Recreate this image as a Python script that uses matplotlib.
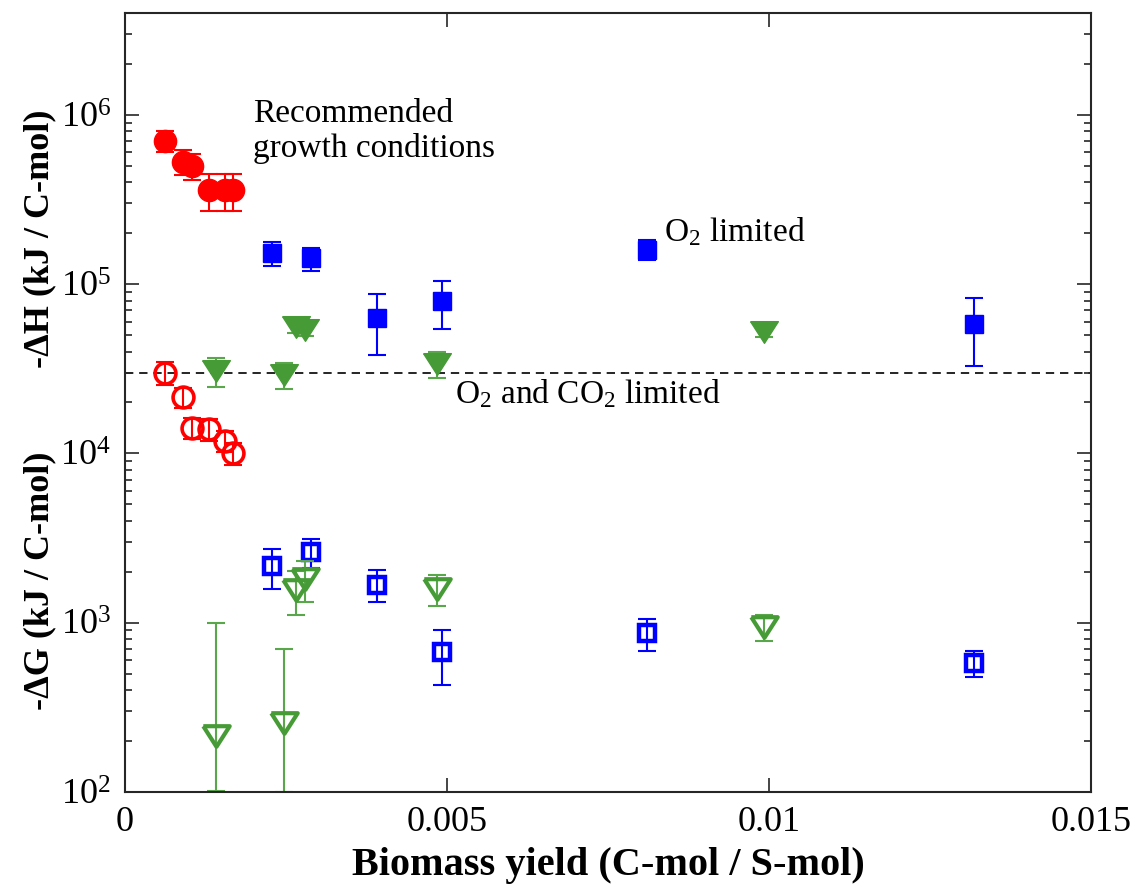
import numpy as np
import matplotlib
matplotlib.use("Agg")
import matplotlib.pyplot as plt
from matplotlib.ticker import LogLocator, NullFormatter, FixedLocator

plt.rcParams['font.family'] = ['Liberation Serif', 'DejaVu Serif']
plt.rcParams['mathtext.fontset'] = 'custom'
plt.rcParams['mathtext.rm'] = 'Liberation Serif'
plt.rcParams['mathtext.it'] = 'Liberation Serif:italic'
plt.rcParams['mathtext.bf'] = 'Liberation Serif:bold'

# Recommended growth conditions
x_rec = [0.00062, 0.00090, 0.00104, 0.00131, 0.00155, 0.00168]
dH_rec = [7.0e5, 5.3e5, 5.0e5, 3.6e5, 3.6e5, 3.6e5]
dH_rec_err = [1.0e5, 0.9e5, 0.9e5, 0.9e5, 0.9e5, 0.9e5]
dG_rec = [3.0e4, 2.15e4, 1.42e4, 1.39e4, 1.19e4, 1.0e4]
dG_rec_err = [4500, 3000, 2000, 2000, 1700, 1500]

# O2 limited
x_o2 = [0.00228, 0.00289, 0.00391, 0.00493, 0.00810, 0.01318]
dH_o2 = [1.53e5, 1.42e5, 6.3e4, 7.9e4, 1.6e5, 5.8e4]
dH_o2_err = [2.5e4, 2.2e4, 2.5e4, 2.5e4, 2.2e4, 2.5e4]
dG_o2 = [2150, 2620, 1680, 670, 865, 580]
dG_o2_err = [560, 520, 360, 240, 180, 105]

# O2 and CO2 limited
x_co2 = [0.00141, 0.00247, 0.00266, 0.00279, 0.00485, 0.00992]
dH_co2 = [3.07e4, 2.9e4, 5.56e4, 5.37e4, 3.38e4, 5.2e4]
dH_co2_err = [6000, 5000, 4000, 4000, 6000, 3000]
dG_co2 = [215, 255, 1560, 1820, 1590, 945]
dG_co2_lo = [113, 155, 450, 500, 330, 170]
dG_co2_hi = [785, 445, 450, 500, 330, 170]

threshold = 3e4
x_ticks = [0, 0.005, 0.01, 0.015]
x_ticklabels = ['0', '0.005', '0.01', '0.015']

RED = '#ff0000'
BLUE = '#0000ff'
GREEN = '#479b37'
GREEN_BAR = '#5aa64b'

tri = [(-1, 0.78), (1, 0.78), (0, -0.78), (-1, 0.78)]

fig = plt.figure(figsize=(11.37, 8.94), dpi=100)
ax = fig.add_axes([0.1099, 0.1141, 0.8496, 0.8714])

eb = dict(fmt='none', elinewidth=1.5, capsize=6.5, capthick=1.5)


def series(x, y, err, bar_color, marker, ms, mfc, mec, mew):
    ax.errorbar(x, y, yerr=err, ecolor=bar_color, **eb)
    ax.plot(x, y, linestyle='none', marker=marker, ms=ms, mfc=mfc, mec=mec,
            mew=mew)


series(x_rec, dH_rec, dH_rec_err, RED, 'o', 16, RED, RED, 1)
series(x_rec, dG_rec, dG_rec_err, RED, 'o', 15, 'none', RED, 2.6)
series(x_o2, dH_o2, dH_o2_err, BLUE, 's', 13, BLUE, BLUE, 1)
series(x_o2, dG_o2, dG_o2_err, BLUE, 's', 11, 'none', BLUE, 3.2)
series(x_co2, dH_co2, dH_co2_err, GREEN_BAR, tri, 20, GREEN, GREEN, 1)
series(x_co2, dG_co2, [dG_co2_lo, dG_co2_hi], GREEN_BAR, tri, 19, 'none',
       GREEN, 3)

ax.axhline(threshold, color='black', linestyle=(0, (5, 3.5)), linewidth=1.2,
           zorder=1)

ax.set_yscale('log')
ax.set_xlim(0, 0.015)
ax.set_ylim(1e2, 4e6)
ax.xaxis.set_major_locator(FixedLocator(x_ticks))
ax.set_xticklabels(x_ticklabels)
ax.yaxis.set_major_locator(LogLocator(base=10, numticks=10))
ax.yaxis.set_minor_locator(LogLocator(base=10, subs=np.arange(2, 10), numticks=20))
ax.yaxis.set_minor_formatter(NullFormatter())

for s in ax.spines.values():
    s.set_linewidth(1.5)
    s.set_color('#262626')
ax.tick_params(which='both', direction='in', top=True, right=True,
               color='#262626', width=1.2)
ax.tick_params(which='major', length=10, labelsize=26, pad=10)
ax.tick_params(which='minor', length=5)

ax.set_xlabel('Biomass yield (C-mol / S-mol)', fontsize=29, fontweight='bold',
              labelpad=6)

fig.text(0.035, 0.733, '-ΔH (kJ / C-mol)', rotation=90, fontsize=26,
         fontweight='bold', ha='center', va='center')
fig.text(0.035, 0.35, '-ΔG (kJ / C-mol)', rotation=90, fontsize=26,
         fontweight='bold', ha='center', va='center')

ax.text(0.00199, 8.0e5, 'Recommended\ngrowth conditions', fontsize=24,
        ha='left', va='center', linespacing=1.2)
ax.text(0.00837, 2.05e5, r'O$_2$ limited', fontsize=24, ha='left',
        va='center')
ax.text(0.00512, 2.25e4, r'O$_2$ and CO$_2$ limited', fontsize=24,
        ha='left', va='center')

fig.savefig('out.png', dpi=100)
